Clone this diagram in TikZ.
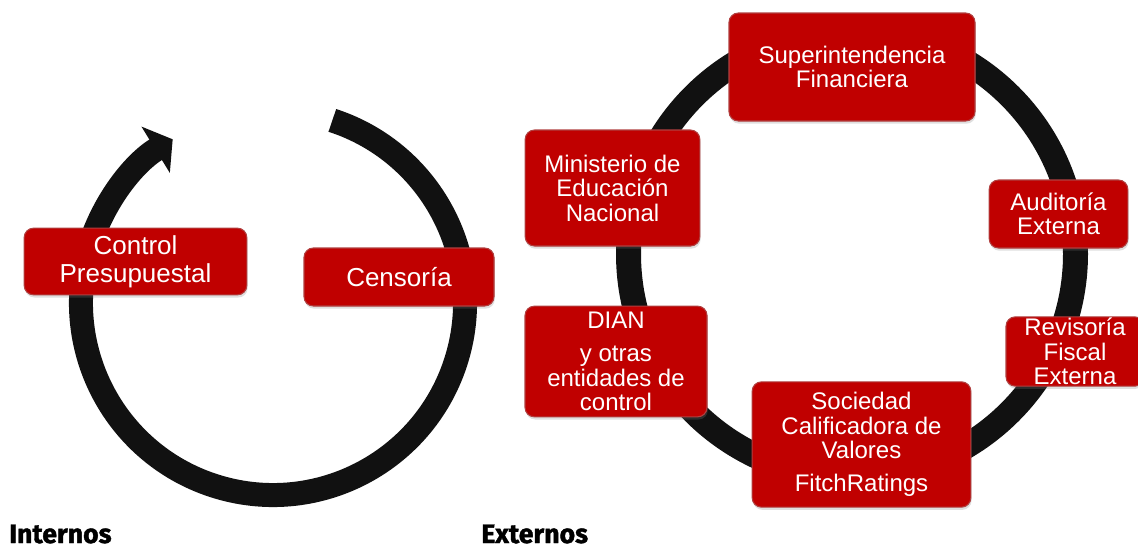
\documentclass[tikz,border=0pt]{standalone}
\usepackage{fontspec}
\setmainfont{Liberation Sans}
\newfontfamily\labelfont{Fira Sans}[BoldFeatures={FakeBold=1.5}]
\definecolor{boxRed}{RGB}{192,0,0}
\definecolor{boxEdge}{RGB}{176,64,64}
\definecolor{ringBlack}{RGB}{17,17,17}
\usetikzlibrary{arrows.meta,shadows,calc}

\begin{document}
\begin{tikzpicture}[x=0.75pt, y=-0.75pt,
    ent/.style={rectangle, rounded corners=7pt, draw=boxEdge, fill=boxRed,
                line width=0.8pt, text=white, align=center, inner sep=0pt,
                font=\fontsize{18}{18.4}\selectfont,
                drop shadow={opacity=0.25, shadow xshift=0.6pt, shadow yshift=-2pt}},
    big/.style={font=\fontsize{19.5}{21}\selectfont},
    ring/.style={ringBlack, line width=18pt},
    grp/.style={anchor=base west, inner sep=0pt, font=\labelfont\bfseries\fontsize{20}{22}\selectfont}
  ]
  \useasboundingbox (0,0) rectangle (1138,550);
  \coordinate (cint) at (273,303);
  \coordinate (cext) at (852,254);

  % rings
  \draw[ring, -{Triangle[width=40pt,length=15pt]}]
    ($(cint)+(-72:192)$) arc[start angle=-72, end angle=238.5, radius=192];
  \draw[ring, line width=18.75pt] (cext) circle[radius=223.5];

  % internos
  \node[ent, big, minimum width=167pt, minimum height=50pt] (cp) at (135.5,261.5) {Control\\Presupuestal};
  \node[ent, big, minimum width=142.5pt, minimum height=43.5pt] (ce) at (399,277) {Censoría};

  % externos
  \node[ent, minimum width=184.5pt, minimum height=81pt] (sf) at (852,67) {Superintendencia\\Financiera};
  \node[ent, minimum width=131pt, minimum height=87pt] (men) at (612.5,188) {Ministerio de\\Educación\\Nacional};
  \node[ent, minimum width=104pt, minimum height=51pt] (ae) at (1058.5,214) {Auditoría\\Externa};
  \node[ent, minimum width=103.5pt, minimum height=52pt] (rf) at (1075,351.5) {Revisoría\\Fiscal\\Externa};
  \node[ent, minimum width=164pt, minimum height=94pt] (scv) at (861.5,444.5) {Sociedad\\Calificadora de\\Valores\\[6.5pt]FitchRatings};
  \node[ent, minimum width=136.5pt, minimum height=83pt] (dian) at (616,361.5) {DIAN\\[6.5pt]y otras\\entidades de\\control};

  \node[grp] (int) at (9,543) {Internos};
  \node[grp] (ext) at (481,543) {Externos};
\end{tikzpicture}
\end{document}
